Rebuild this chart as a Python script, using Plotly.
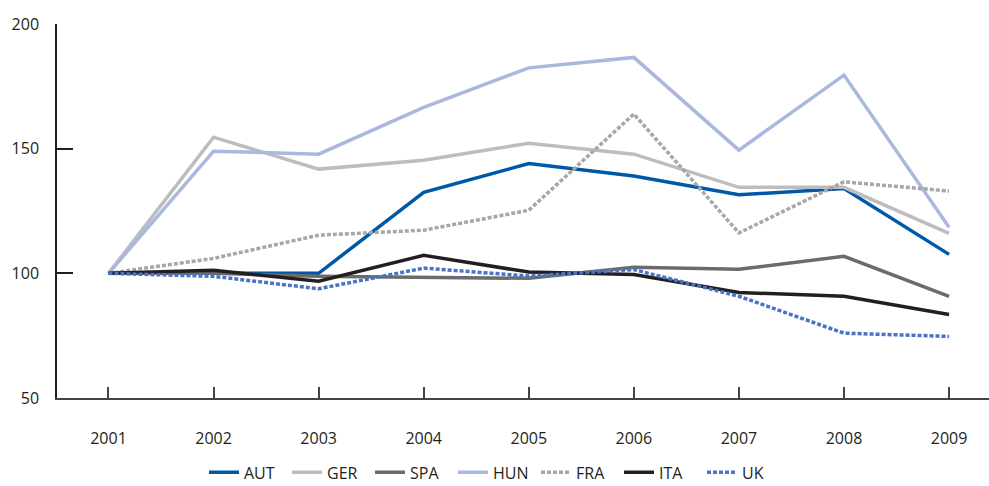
import plotly.graph_objects as go

years = [2001, 2002, 2003, 2004, 2005, 2006, 2007, 2008, 2009]
aut = [100, 100, 100, 132.5, 144, 139, 131.5, 134, 107.6]
ger = [100, 154.6, 141.8, 145.4, 152.2, 147.8, 134.5, 134.5, 116]
spa = [100, 100, 98.8, 98.5, 98, 102.4, 101.6, 106.8, 90.8]
hun = [100, 149, 147.8, 166.6, 182.4, 186.6, 149.4, 179.5, 118.5]
fra = [100, 106, 115.3, 117.3, 125.3, 163.9, 116.2, 136.7, 133]
ita = [100, 101.2, 96.8, 107.2, 100.5, 99.5, 92.3, 90.8, 83.5]
uk = [100, 98.8, 93.8, 102.1, 98.9, 101.5, 90.8, 76, 74.7]

series = [
    ("AUT", aut, "#0058A8", "solid"),
    ("GER", ger, "#BDBDBD", "solid"),
    ("SPA", spa, "#6B6B6B", "solid"),
    ("HUN", hun, "#AAB8DF", "solid"),
    ("FRA", fra, "#A7A7A7", "4px,2px"),
    ("ITA", ita, "#231F20", "solid"),
    ("UK", uk, "#4A74C2", "4px,2px"),
]

fig = go.Figure()
for name, vals, color, dash in series:
    fig.add_trace(go.Scatter(x=years, y=vals, name=name, mode="lines",
                             line=dict(color=color, width=3.5, dash=dash)))

font = dict(family="Open Sans, Noto Sans, sans-serif", size=16, color="#231F20")
fig.update_layout(
    width=989, height=486,
    margin=dict(l=57, r=0, t=24, b=88, autoexpand=False),
    paper_bgcolor="white", plot_bgcolor="white",
    font=font,
    showlegend=True,
    legend=dict(orientation="h", x=0.5, xanchor="center", xref="container",
                y=0.028, yanchor="middle", yref="container",
                bgcolor="rgba(0,0,0,0)",
                font=dict(size=16), itemwidth=30, tracegroupgap=0,
                entrywidth=38, entrywidthmode="pixels"),
    xaxis=dict(range=[2000.51, 2009.38], tickvals=years, ticktext=[str(y) for y in years],
               showgrid=False, zeroline=False, showline=True, linecolor="#444444", linewidth=1.5,
               ticks="inside", ticklen=11, tickcolor="#444444", tickwidth=1.5,
               ticklabelstandoff=25, automargin=False),
    yaxis=dict(range=[50, 200], tickvals=[50, 100, 150, 200],
               showgrid=False, zeroline=False, showline=True, linecolor="#231F20", linewidth=1.5,
               ticks="inside", ticklen=16, tickcolor="#231F20", tickwidth=1.5,
               ticklabelstandoff=13, automargin=False),
)
fig.write_html("out.html", config={"displayModeBar": False},
               post_script="document.body.style.margin='0';")
